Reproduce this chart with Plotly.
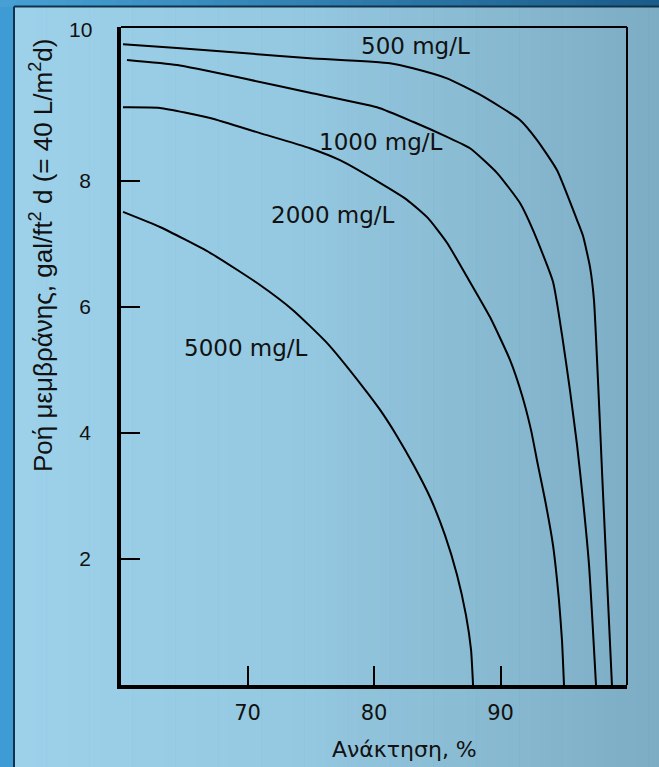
import plotly.graph_objects as go

# ---- data ----
x_500 = [60.16, 64.43, 69.64, 74.94, 81.26, 83.08, 85.77, 88.38, 91.54, 92.89, 94.47, 96.05, 96.52, 97.08, 97.39, 98.10, 98.81]
y_500 = [10.17, 10.11, 10.03, 9.95, 9.87, 9.79, 9.63, 9.37, 8.97, 8.65, 8.17, 7.38, 7.13, 6.63, 6.11, 3.06, 0.0]

x_1000 = [60.47, 64.43, 69.64, 74.94, 80.24, 83.08, 85.77, 87.59, 89.72, 91.54, 92.57, 94.15, 94.86, 95.49, 96.05, 96.52, 97.00, 97.55]
y_1000 = [9.92, 9.84, 9.63, 9.40, 9.17, 8.94, 8.70, 8.52, 8.13, 7.65, 7.22, 6.40, 5.56, 4.68, 3.81, 2.94, 1.90, 0.0]

x_2000 = [60.16, 63.08, 67.04, 70.99, 74.94, 77.31, 80.47, 82.61, 84.27, 85.77, 87.35, 89.17, 90.75, 91.70, 92.41, 92.96, 93.52, 94.15, 94.62, 94.86, 95.02]
y_2000 = [9.17, 9.16, 9.00, 8.76, 8.52, 8.33, 7.97, 7.70, 7.41, 7.02, 6.48, 5.84, 5.16, 4.60, 4.05, 3.49, 2.94, 2.22, 1.35, 0.71, 0.0]

x_5000 = [60.16, 63.08, 67.04, 70.99, 73.60, 76.28, 79.13, 80.47, 81.82, 83.16, 84.43, 85.61, 86.56, 87.27, 87.67, 87.83]
y_5000 = [7.51, 7.27, 6.86, 6.35, 5.95, 5.43, 4.73, 4.37, 3.95, 3.48, 2.98, 2.38, 1.75, 1.11, 0.56, 0.0]

series_names = ["500 mg/L", "1000 mg/L", "2000 mg/L", "5000 mg/L"]
label_x = [83.3, 80.55, 76.76, 69.88]
label_y = [10.14, 8.62, 7.46, 5.35]

x_ticks = [70, 80, 90]
y_ticks = [2, 4, 6, 8]
y_top_label = "10"

x_title = "Ανάκτηση, %"
y_title = "Ροή μεμβράνης, gal/ft<sup>2</sup> d (= 40 L/m<sup>2</sup>d)"

# ---- layout geometry (pixels) ----
W, H = 659, 767
L, R, T, B = 121, 627, 27, 685
X_RANGE = [60, 100]
Y_RANGE = [0, (B - T) / 63.0]


def px(xp):
    return (xp - L) / (R - L)


def py(yp):
    return (B - yp) / (B - T)


def mix(c1, c2, t):
    t = max(0.0, min(1.0, t))
    return "rgb(%d,%d,%d)" % tuple(round(a + (b - a) * t) for a, b in zip(c1, c2))


shapes = []
shapes.append(dict(type="rect", xref="paper", yref="paper", x0=px(0), x1=px(W), y0=py(H), y1=py(0),
                   fillcolor="#3f9bd3", line=dict(width=0), layer="below"))
n = 40
top_l, top_r = (70, 160, 212), (26, 92, 138)
for i in range(n):
    x0 = i * W / n
    x1 = (i + 1) * W / n + 0.5
    shapes.append(dict(type="rect", xref="paper", yref="paper", x0=px(x0), x1=px(x1), y0=py(7), y1=py(0),
                       fillcolor=mix(top_l, top_r, i / (n - 1)), line=dict(width=0), layer="below"))
pan_l, pan_m, pan_r = (157, 209, 234), (148, 200, 224), (125, 173, 196)
n = 60
for i in range(n):
    x0 = 14 + i * (W - 14) / n
    x1 = 14 + (i + 1) * (W - 14) / n + 0.5
    t = i / (n - 1)
    c = mix(pan_l, pan_m, t / 0.45) if t < 0.45 else mix(pan_m, pan_r, (t - 0.45) / 0.55)
    shapes.append(dict(type="rect", xref="paper", yref="paper", x0=px(x0), x1=px(x1), y0=py(H), y1=py(7),
                       fillcolor=c, line=dict(width=0), layer="below"))
shapes.append(dict(type="line", xref="paper", yref="paper", x0=px(14), x1=px(14), y0=py(H), y1=py(6.5),
                   line=dict(color="#10324a", width=2), layer="below"))
shapes.append(dict(type="line", xref="paper", yref="paper", x0=px(14), x1=px(W), y0=py(6.5), y1=py(6.5),
                   line=dict(color="#10324a", width=2), layer="below"))
shapes.append(dict(type="line", xref="paper", yref="paper", x0=0, x1=1, y0=1, y1=1,
                   line=dict(color="black", width=2)))
shapes.append(dict(type="line", xref="paper", yref="paper", x0=1, x1=1, y0=0, y1=1,
                   line=dict(color="black", width=2)))

fig = go.Figure()
for xs, ys, name in zip([x_500, x_1000, x_2000, x_5000], [y_500, y_1000, y_2000, y_5000], series_names):
    fig.add_trace(go.Scatter(x=xs, y=ys, mode="lines", name=name,
                             line=dict(color="black", width=2, shape="spline", smoothing=0.5),
                             hoverinfo="skip", showlegend=False, cliponaxis=False))

annotations = []
for name, lx, ly in zip(series_names, label_x, label_y):
    annotations.append(dict(x=lx, y=ly, xref="x", yref="y", text=name, showarrow=False,
                            font=dict(family="DejaVu Sans", size=23, color="#111")))
annotations.append(dict(x=px(94), y=py(29.5), xref="paper", yref="paper", text=y_top_label, showarrow=False,
                        xanchor="right", yanchor="middle", font=dict(family="Liberation Sans", size=21, color="#111")))
annotations.append(dict(x=px(41), y=py(256), xref="paper", yref="paper", text=y_title, showarrow=False,
                        textangle=-90, xanchor="center", yanchor="middle",
                        font=dict(family="Liberation Sans", size=26, color="#111")))
annotations.append(dict(x=px(404), y=py(749), xref="paper", yref="paper", text=x_title, showarrow=False,
                        xanchor="center", yanchor="middle",
                        font=dict(family="DejaVu Sans", size=22, color="#111")))

fig.update_layout(
    width=W, height=H,
    margin=dict(l=L, r=W - R, t=T, b=H - B, pad=0),
    paper_bgcolor="#3f9bd3", plot_bgcolor="rgba(0,0,0,0)",
    shapes=shapes, annotations=annotations,
    xaxis=dict(range=X_RANGE, tickvals=x_ticks, ticks="inside", ticklen=19, tickwidth=2, tickcolor="black",
               showline=True, linewidth=3.5, linecolor="black", showgrid=False, zeroline=False,
               tickfont=dict(family="DejaVu Sans", size=21, color="#111"), ticklabelstandoff=6),
    yaxis=dict(range=Y_RANGE, tickvals=y_ticks, ticks="inside", ticklen=19, tickwidth=2, tickcolor="black",
               showline=True, linewidth=3.5, linecolor="black", showgrid=False, zeroline=False,
               tickfont=dict(family="Liberation Sans", size=21, color="#111"), ticklabelstandoff=22),
)

fig.write_html("out.html", config={"displayModeBar": False},
               post_script="document.body.style.margin='0px';document.body.style.overflow='hidden';")
